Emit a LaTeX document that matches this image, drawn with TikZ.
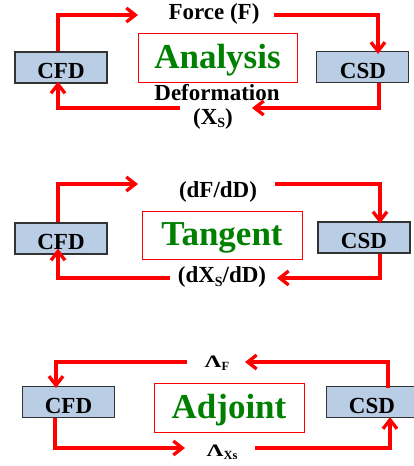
\documentclass[tikz,border=0pt]{standalone}
\usepackage{fontspec}
\setmainfont{Liberation Serif}
\usetikzlibrary{arrows.meta}
\definecolor{boxblue}{RGB}{185,205,229}
\definecolor{titlegreen}{RGB}{0,128,0}
\newcommand{\lowsub}[2][12]{\raisebox{-0.35ex}{\fontsize{#1}{#1}\selectfont #2}}
\newcommand{\biglam}{\scalebox{1.35}[1]{Λ}}
\begin{document}
\begin{tikzpicture}[x=1pt,y=-1pt,
  solver/.style={draw=black!80, line width=1.2pt, fill=boxblue, inner sep=0, minimum width=92pt, minimum height=31pt},
  solvertext/.style={font=\fontsize{23}{23}\selectfont\bfseries, inner sep=0},
  titlebox/.style={draw=red, line width=0.9pt, inner sep=0},
  titletext/.style={font=\fontsize{35}{35}\selectfont\bfseries, text=titlegreen, inner sep=0},
  lbl/.style={font=\fontsize{23}{23}\selectfont\bfseries, inner sep=0},
  lam/.style={font=\fontsize{17.5}{17.5}\selectfont\bfseries, inner sep=0},
  arr/.style={draw=red, line width=3.3pt, -{Straight Barb[length=9pt,width=14pt]}}]
\useasboundingbox (0,0) rectangle (413,466);

% ---------- Analysis ----------
\node[solver] (cfd1) at (61,67.5) {};
\node[solvertext] (cfd1t) at (61,71) {CFD};
\node[solver] (csd1) at (362.5,67) {};
\node[solvertext] (csd1t) at (363,71) {CSD};
\node[titlebox, minimum width=159pt, minimum height=49pt] (ana) at (217.5,57.5) {};
\node[titletext] (anat) at (217.5,60) {Analysis};
\node[lbl] (force) at (214,14) {Force (F)};
\node[lbl] (deform) at (217,93) {Deformation};
\node[lbl] (xs1) at (213,118.5) {(X\lowsub[14]{S})};
\coordinate (a1) at (138,15);
\coordinate (b1) at (274,15);
\coordinate (c1) at (252,108);
\coordinate (d1) at (180,108);
\draw[arr] ([xshift=-3pt]cfd1.north) |- (a1);
\draw[arr] (b1) -| ([xshift=15.5pt,yshift=-3pt]csd1.north);
\draw[arr] ([xshift=16.5pt]csd1.south) |- (c1);
\draw[arr] (d1) -| ([xshift=-3pt,yshift=2pt]cfd1.south);

% ---------- Tangent ----------
\node[solver] (cfd2) at (61,238.5) {};
\node[solvertext] (cfd2t) at (61,242) {CFD};
\node[solver] (csd2) at (364,237.5) {};
\node[solvertext] (csd2t) at (364,241) {CSD};
\node[titlebox, minimum width=160pt, minimum height=48pt] (tan) at (222,235) {};
\node[titletext] (tant) at (222,238) {Tangent};
\node[lbl] (dfdd) at (218,192) {(dF/dD)};
\node[lbl] (dxdd) at (222,277) {(dX\lowsub[14]{S}/dD)};
\coordinate (a2) at (138,184);
\coordinate (b2) at (275,184);
\coordinate (c2) at (277,278);
\coordinate (d2) at (170,278);
\draw[arr] ([xshift=-3pt]cfd2.north) |- (a2);
\draw[arr] (b2) -| ([xshift=16pt,yshift=-2pt]csd2.north);
\draw[arr] ([xshift=16pt]csd2.south) |- (c2);
\draw[arr] (d2) -| ([xshift=-3pt,yshift=6pt]cfd2.south);

% ---------- Adjoint ----------
\node[solver] (cfd3) at (68.5,402) {};
\node[solvertext] (cfd3t) at (68.5,406) {CFD};
\node[solver] (csd3) at (372.5,402) {};
\node[solvertext] (csd3t) at (372,406) {CSD};
\node[titlebox, minimum width=150pt, minimum height=49pt] (adj) at (229,407.5) {};
\node[titletext] (adjt) at (229,410) {Adjoint};
\node[lam] (lf) at (217,363) {\biglam\lowsub[12.5]{F}};
\node[lam] (lx) at (222,452) {\biglam\lowsub[12.5]{Xs}};
\coordinate (a3) at (245,362);
\coordinate (b3) at (187,362);
\coordinate (c3) at (185,448);
\coordinate (d3) at (255,448);
\draw[arr] ([xshift=15.5pt,yshift=-2pt]csd3.north) |- (a3);
\draw[arr] (b3) -| ([xshift=-12.5pt,yshift=-2pt]cfd3.north);
\draw[arr] ([xshift=-13.5pt]cfd3.south) |- (c3);
\draw[arr] (d3) -| ([xshift=17.5pt,yshift=1pt]csd3.south);
\end{tikzpicture}
\end{document}
